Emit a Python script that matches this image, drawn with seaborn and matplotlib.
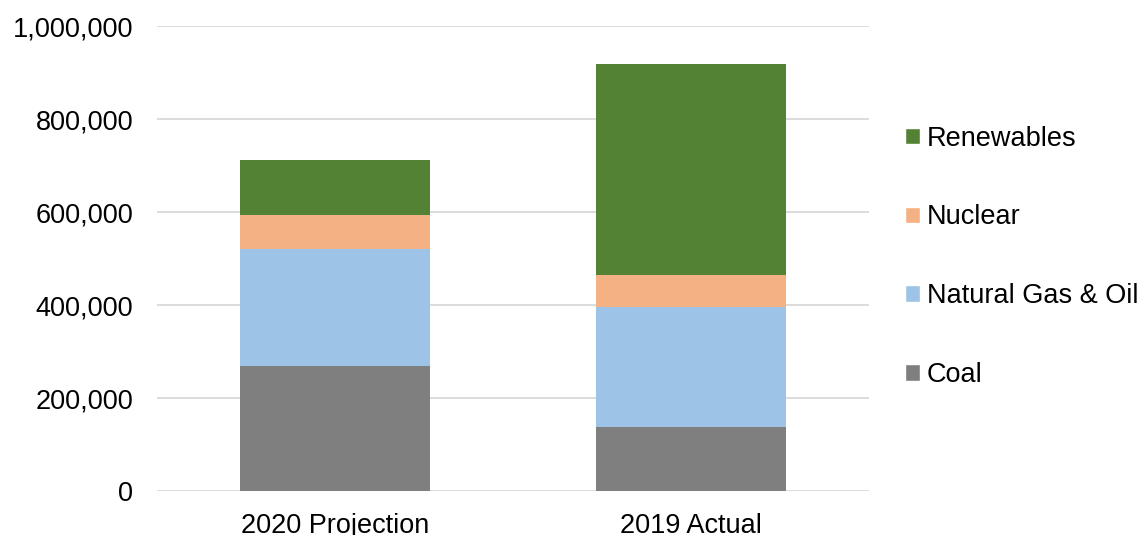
import numpy as np
import pandas as pd
import seaborn as sns
from matplotlib import pyplot as plt
from matplotlib.patches import Patch
from matplotlib.ticker import FuncFormatter

categories = ["2020 Projection", "2019 Actual"]
coal = [269000, 138000]
gas_oil = [252000, 257000]
nuclear = [73000, 69000]
renewables = [118000, 454000]

sources = ["Coal", "Natural Gas & Oil", "Nuclear", "Renewables"]
colors = ["#7F7F7F", "#9DC3E6", "#F4B183", "#548235"]

sns.set_theme(style="white")
plt.rcParams['font.family'] = ['Liberation Sans', 'DejaVu Sans']
plt.rcParams['text.color'] = 'black'

df = pd.DataFrame({
    "category": categories,
    "Coal": coal,
    "Natural Gas & Oil": gas_oil,
    "Nuclear": nuclear,
    "Renewables": renewables,
})
# cumulative tops, so each layer can be drawn over the taller one
cum = df[sources].cumsum(axis=1)
cum["category"] = df["category"]

fig = plt.figure(figsize=(11.44, 5.35), dpi=100)
ax = fig.add_axes([0.1372, 0.0822, 0.6224, 0.8692])

for src, col in reversed(list(zip(sources, colors))):
    sns.barplot(cum, x="category", y=src, color=col, width=0.534,
                saturation=1, ax=ax, zorder=3, edgecolor="none")

ax.set_ylim(0, 1000000)
ax.set_xlim(-0.5, 1.5)
ax.set_yticks(np.arange(0, 1000001, 200000))
ax.yaxis.set_major_formatter(FuncFormatter(lambda v, p: f"{int(v):,}"))
ax.grid(axis="y", color="#D9D9D9", linewidth=1.3, zorder=0)
ax.set_axisbelow(True)
for s in ax.spines.values():
    s.set_visible(False)
ax.tick_params(axis="both", length=0, labelsize=19.5, colors="black")
ax.tick_params(axis="y", pad=17)
ax.tick_params(axis="x", pad=16)
ax.set_xlabel("")
ax.set_ylabel("")

handles = [Patch(facecolor=c, label=s) for s, c in zip(sources, colors)][::-1]
fig.legend(handles=handles, loc="center left", bbox_to_anchor=(0.782, 0.52),
           frameon=False, fontsize=19.5, handlelength=0.55, handleheight=0.55,
           handletextpad=0.25, labelspacing=1.95, borderaxespad=0,
           labelcolor="black")

fig.savefig("out.png", dpi=100)
